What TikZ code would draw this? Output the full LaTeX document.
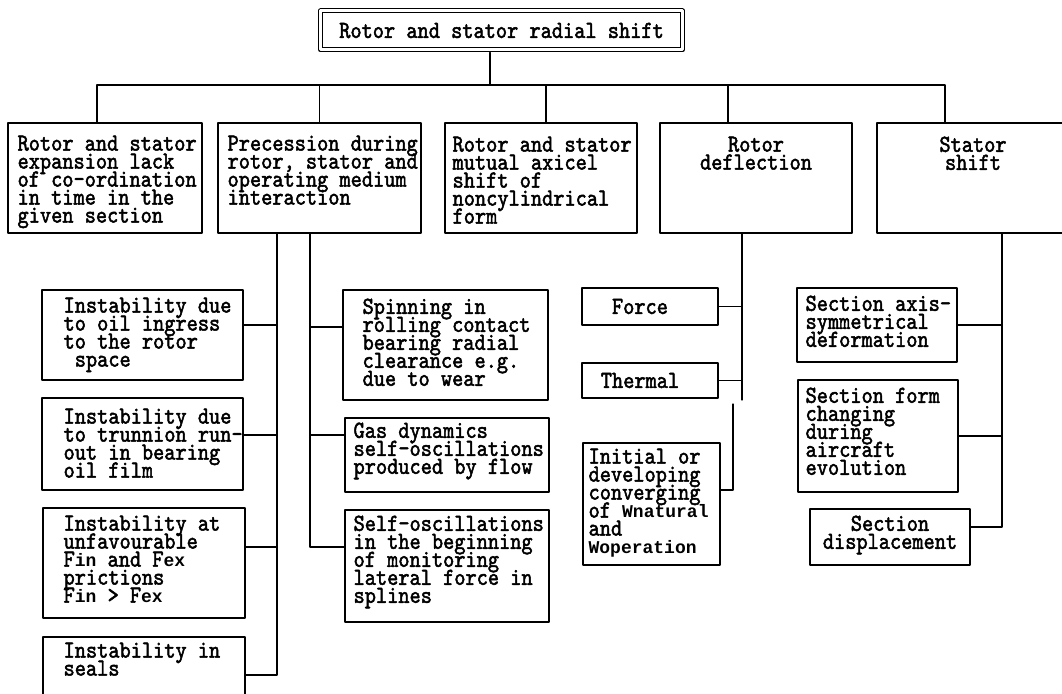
\documentclass[tikz,border=0pt]{standalone}
\usepackage{fontspec}
\newfontfamily\dotfont{lmmono10-regular.otf}[FakeStretch=0.87,FakeBold=2]
\newfontfamily\lofont{Liberation Mono}
\newcommand\cellfont{\dotfont\fontsize{24.5}{18}\selectfont\lineskiplimit=-50pt\relax}
\newcommand\lo[1]{{\lofont\bfseries\fontsize{18}{18}\selectfont #1}}

\tikzset{
  cell/.style={draw, anchor=north west, inner sep=0pt, outer sep=0pt},
  txt/.style={anchor=north west, inner sep=0pt, align=left, font=\cellfont},
  ctxt/.style={anchor=north, inner sep=0pt, align=center, font=\cellfont},
}

\begin{document}
\begin{tikzpicture}[x=1pt, y=-1pt, line width=1.2pt, line cap=round, line join=round]
    \useasboundingbox (0,0) rectangle (1062,693);
    \fill[white] (0,0) rectangle (1062,693);

    % Riquadro principale (doppio bordo)
    \node[draw, double, double distance=3pt, line width=1pt, inner sep=0pt,
          minimum width=362pt, minimum height=39pt, font=\cellfont] (top) at (501.5,30.5) {Rotor and stator radial shift};
    \coordinate (hub) at (490,85);

    % Prima fila di riquadri
    \node[cell, minimum width=194pt, minimum height=110pt] (b1) at (8,123) {};
    \node[cell, minimum width=203pt, minimum height=110pt] (b2) at (218,123) {};
    \node[cell, minimum width=192pt, minimum height=110pt] (b3) at (445,123) {};
    \node[cell, minimum width=192pt, minimum height=110pt] (b4) at (660,123) {};
    \node[cell, minimum width=192pt, minimum height=110pt] (b5) at (877,123) {};

    \node[txt] (t1) at ([shift={(9pt,-12pt)}]b1.north west) {Rotor and stator\\expansion lack\\of co-ordination\\in time in the\\given section};
    \node[txt] (t2) at ([shift={(9pt,-12pt)}]b2.north west) {Precession during\\rotor, stator and\\operating medium\\interaction};
    \node[txt] (t3) at ([shift={(7pt,-13pt)}]b3.north west) {Rotor and stator\\mutual axicel\\shift of\\noncylindrical\\form};
    \node[ctxt] (t4) at ([yshift=-13pt]b4.north) {Rotor\\deflection};
    \node[ctxt] (t5) at ([yshift=-13pt]b5.north) {Stator\\shift};

    % Collegamenti dal riquadro principale
    \draw ([yshift=-2pt]top.south -| hub) -- (hub);
    \draw ([xshift=-8pt]b1.north) |- (hub);
    \draw (b2.north) |- (hub);
    \draw ([xshift=5pt]b3.north) |- (hub);
    \draw ([xshift=-28pt]b4.north) |- (hub);
    \draw ([xshift=-28pt]b5.north) |- (hub);

    % Colonna sinistra (instabilita')
    \coordinate (lb) at (277,233);
    \node[cell, minimum width=201pt, minimum height=90pt] (l1) at (42,290) {};
    \node[cell, minimum width=201pt, minimum height=92pt] (l2) at (42,398) {};
    \node[cell, minimum width=202pt, minimum height=110pt] (l3) at (43,508) {};
    \node[cell, minimum width=202pt, minimum height=76pt] (l4) at (43,637) {};
    \node[txt] (tl1) at ([shift={(21pt,-7pt)}]l1.north west) {Instability due\\to oil ingress\\to the rotor\\~space};
    \node[txt] (tl2) at ([shift={(21pt,-10pt)}]l2.north west) {Instability due\\to trunnion run-\\out in bearing\\oil film};
    \node[txt] (tl3) at ([shift={(20pt,-7pt)}]l3.north west) {Instability at\\unfavourable\\F\lo{in} and F\lo{ex}\\prictions\\F\lo{in} > F\lo{ex}};
    \node[txt] (tl4) at ([shift={(20pt,-5pt)}]l4.north west) {Instability in\\seals};
    \draw ([yshift=10pt]l1.east) -| (lb);
    \draw ([yshift=9pt]l2.east) -| (lb);
    \draw ([yshift=16pt]l3.east) -| (lb);
    \draw (l4.east) -| (lb);

    % Colonna centrale
    \coordinate (mb) at (310,233);
    \node[cell, minimum width=205pt, minimum height=110pt] (m1) at (343,290) {};
    \node[cell, minimum width=204pt, minimum height=74pt] (m2) at (345,418) {};
    \node[cell, minimum width=204pt, minimum height=112pt] (m3) at (345,510) {};
    \node[txt] (tm1) at ([shift={(19pt,-8pt)}]m1.north west) {Spinning in\\rolling contact\\bearing radial\\clearance e.g.\\due to wear};
    \node[txt] (tm2) at ([shift={(8pt,-4pt)}]m2.north west) {Gas dynamics\\self-oscillations\\produced by flow};
    \node[txt] (tm3) at ([shift={(8pt,-5pt)}]m3.north west) {Self-oscillations\\in the beginning\\of monitoring\\lateral force in\\splines};
    \draw ([yshift=18pt]m1.west) -| (mb);
    \draw ([yshift=20pt]m2.west) -| (mb);
    \draw ([yshift=19pt]m3.west) -| (mb);

    % Flessione del rotore
    \coordinate (rb) at (742,233);
    \coordinate (rbend) at (742,400);
    \coordinate (rb2) at (733,404);
    \node[cell, minimum width=136pt, minimum height=37pt] (r1) at (582,288) {};
    \node[cell, minimum width=136pt, minimum height=35pt] (r2) at (582,363) {};
    \node[cell, minimum width=137pt, minimum height=122pt] (r3) at (583,443) {};
    \node[txt, anchor=center] (tr1) at ([xshift=-10pt]r1.center) {Force};
    \node[txt, anchor=center] (tr2) at ([xshift=-10pt]r2.center) {Thermal};
    \node[txt] (tr3) at ([shift={(5pt,-5pt)}]r3.north west) {Initial or\\developing\\converging\\of \lo{Wnatural}\\and\\\lo{Woperation}};
    \draw (rb) -- (rbend);
    \draw (r1.east) -| (rb);
    \draw (r2.east) -| (rb);
    \draw ([yshift=14pt]r3.east) -| (rb2);

    % Spostamento dello statore
    \coordinate (sb) at (1002,233);
    \node[cell, minimum width=160pt, minimum height=74pt] (s1) at (797,288) {};
    \node[cell, minimum width=160pt, minimum height=112pt] (s2) at (798,380) {};
    \node[cell, minimum width=160pt, minimum height=56pt] (s3) at (810,509) {};
    \node[txt] (ts1) at ([shift={(8pt,-7pt)}]s1.north west) {Section axis-\\symmetrical\\deformation};
    \node[txt] (ts2) at ([shift={(7pt,-7pt)}]s2.north west) {Section form\\changing\\during\\aircraft\\evolution};
    \node[ctxt] (ts3) at ([yshift=-6pt]s3.north) {Section\\displacement};
    \draw (s1.east) -| (sb);
    \draw (s2.east) -| (sb);
    \draw ([yshift=10pt]s3.east) -| (sb);
\end{tikzpicture}
\end{document}
